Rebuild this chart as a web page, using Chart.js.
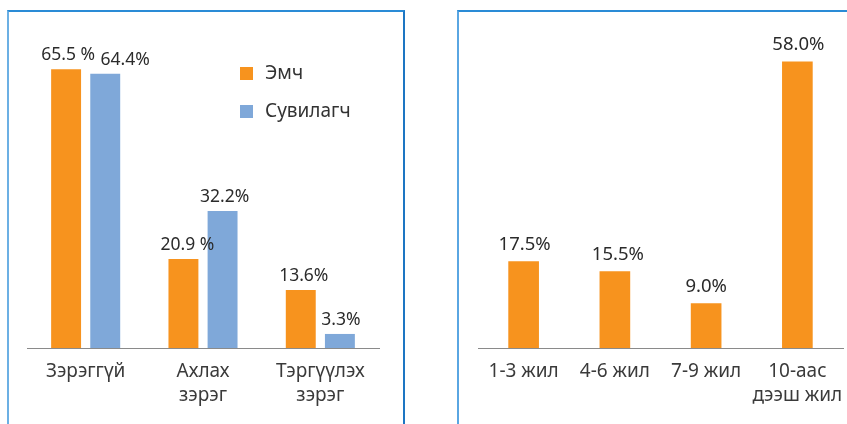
<!DOCTYPE html>
<html>
<head>
<meta charset="utf-8">
<script src="https://cdn.jsdelivr.net/npm/chart.js@4.4.1/dist/chart.umd.min.js"></script>
<style>
  html, body { margin: 0; padding: 0; background: #fff; }
  body { width: 847px; height: 424px; position: relative; overflow: hidden; }
  .panel { position: absolute; box-sizing: border-box; }
  #p1 { left: 7px; top: 10px; width: 398px; height: 430px;
        border-top: 2px solid #2a8bd6; border-left: 2px solid #6cb0e4; border-right: 2px solid #1d76c3; }
  #p2 { left: 457px; top: 10px; width: 420px; height: 430px;
        border-top: 2px solid #2a8bd6; border-left: 2px solid #5aa6e2; }
  canvas { position: absolute; top: 0; }
  #c1 { left: 0; }
  #c2 { left: 440px; }
</style>
</head>
<body>
<div class="panel" id="p1"></div>
<div class="panel" id="p2"></div>
<canvas id="c1" width="420" height="424"></canvas>
<canvas id="c2" width="440" height="424"></canvas>
<script>
// ---- Data ----
const rankCategories = [["Зэрэггүй"], ["Ахлах", "зэрэг"], ["Тэргүүлэх", "зэрэг"]];
const doctorValues = [65.5, 20.9, 13.6];
const nurseValues = [64.4, 32.2, 3.3];
const doctorLabelSpaced = [true, true, false];
const nurseLabelSpaced = [false, false, false];
const seriesNames = ["Эмч", "Сувилагч"];

const yearCategories = [["1-3 жил"], ["4-6 жил"], ["7-9 жил"], ["10-аас", "дээш жил"]];
const yearValues = [17.5, 15.5, 9.0, 58.0];

// ---- Styles ----
const ORANGE = '#F7931E';
const BLUE = '#7FA8D9';
const FONT = '"Noto Sans", "Open Sans", sans-serif';

const valueLabels = {
  id: 'valueLabels',
  afterDatasetsDraw(chart, args, opts) {
    const ctx = chart.ctx;
    ctx.save();
    ctx.font = opts.size + 'px ' + FONT;
    ctx.fillStyle = '#2b2b2b';
    ctx.textAlign = 'center';
    ctx.textBaseline = 'alphabetic';
    chart.data.datasets.forEach((ds, di) => {
      const meta = chart.getDatasetMeta(di);
      meta.data.forEach((bar, i) => {
        const v = ds.data[i];
        const spaced = ds.spaced ? ds.spaced[i] : false;
        const txt = v.toFixed(1) + (spaced ? ' %' : '%');
        const dx = (opts.dx && opts.dx[di] && opts.dx[di][i]) || 0;
        ctx.fillText(txt, bar.x + dx, bar.y - opts.gap);
      });
    });
    ctx.restore();
  }
};

const customLegend = {
  id: 'customLegend',
  afterDraw(chart, args, opts) {
    if (!opts.show) return;
    const ctx = chart.ctx;
    ctx.save();
    ctx.font = opts.size + 'px ' + FONT;
    ctx.textAlign = 'left';
    ctx.textBaseline = 'middle';
    chart.data.datasets.forEach((ds, di) => {
      const cy = opts.y + di * opts.step;
      ctx.fillStyle = ds.backgroundColor;
      ctx.fillRect(opts.x, cy - opts.box / 2, opts.box, opts.box);
      ctx.fillStyle = '#333333';
      ctx.fillText(ds.label, opts.x + opts.box + 12, cy);
    });
    ctx.restore();
  }
};

function xScale() {
  return {
    grid: { display: false, drawTicks: false },
    border: { display: true, color: '#8a8a8a', width: 1 },
    ticks: {
      color: '#3a3a3a',
      font: { family: FONT, size: 19, lineHeight: 1.29 },
      padding: 11,
      maxRotation: 0, minRotation: 0, autoSkip: false
    },
    afterFit(scale) { scale.height = 76; }
  };
}

new Chart(document.getElementById('c1'), {
  type: 'bar',
  data: {
    labels: rankCategories,
    datasets: [
      { label: seriesNames[0], data: doctorValues, backgroundColor: ORANGE, spaced: doctorLabelSpaced,
        categoryPercentage: 0.667, barPercentage: 0.765 },
      { label: seriesNames[1], data: nurseValues, backgroundColor: BLUE, spaced: nurseLabelSpaced,
        categoryPercentage: 0.667, barPercentage: 0.765 }
    ]
  },
  options: {
    responsive: false,
    animation: false,
    layout: { padding: { left: 27, right: 41, top: 50, bottom: 0 } },
    scales: {
      x: xScale(),
      y: { display: false, min: 0, max: 70 }
    },
    plugins: {
      legend: { display: false },
      tooltip: { enabled: false },
      valueLabels: { size: 17.5, gap: 9, dx: [[2, 4, 3], [20, 2, 1]] },
      customLegend: { show: true, x: 240, y: 73.5, step: 38, box: 13, size: 19 }
    }
  },
  plugins: [valueLabels, customLegend]
});

new Chart(document.getElementById('c2'), {
  type: 'bar',
  data: {
    labels: yearCategories,
    datasets: [
      { label: seriesNames[0], data: yearValues, backgroundColor: ORANGE, barThickness: 30 }
    ]
  },
  options: {
    responsive: false,
    animation: false,
    layout: { padding: { left: 38, right: 37, top: 52, bottom: 0 } },
    scales: {
      x: xScale(),
      y: { display: false, min: 0, max: 60 }
    },
    plugins: {
      legend: { display: false },
      tooltip: { enabled: false },
      valueLabels: { size: 18.5, gap: 12, dx: [[1, 3, 0, 1]] },
      customLegend: { show: false }
    }
  },
  plugins: [valueLabels, customLegend]
});
</script>
</body>
</html>
